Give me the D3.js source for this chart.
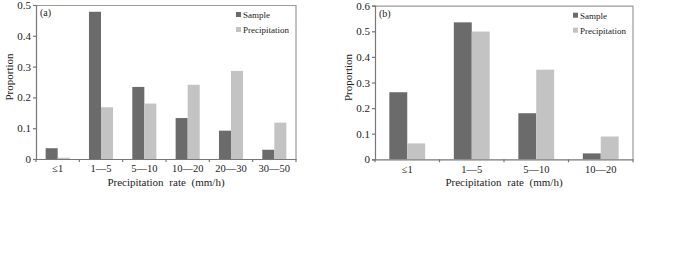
<!DOCTYPE html>
<html>
<head>
<meta charset="utf-8">
<script src="https://cdn.jsdelivr.net/npm/d3@7"></script>
<style>
  body { margin: 0; background: #fff; }
  svg { display: block; font-family: "Liberation Serif", "Times New Roman", serif; }
</style>
</head>
<body>
<div id="chart"></div>
<script>
(function () {

    var SERIES = ["Sample", "Precipitation"];
    var COLORS = { Sample: "#6b6b6b", Precipitation: "#c3c3c3" };

    // panel (a)
    var catsA       = ["≤1", "1—5", "5—10", "10—20", "20—30", "30—50"];
    var sampleA     = [0.035, 0.478, 0.234, 0.133, 0.092, 0.030];
    var precipA     = [0.004, 0.168, 0.180, 0.241, 0.286, 0.118];
    var yTicksA     = [0, 0.1, 0.2, 0.3, 0.4, 0.5];

    // panel (b)
    var catsB       = ["≤1", "1—5", "5—10", "10—20"];
    var sampleB     = [0.262, 0.535, 0.180, 0.023];
    var precipB     = [0.062, 0.499, 0.350, 0.089];
    var yTicksB     = [0, 0.1, 0.2, 0.3, 0.4, 0.5, 0.6];

    var svg = d3.select("#chart").append("svg")
        .attr("width", 700)
        .attr("height", 261);

    /* ── one panel ───────────────────────────────────────────────── */
    function drawPanel(o) {
        var iW = o.right - o.left;
        var iH = o.bottom - o.top;

        var g = svg.append("g")
            .attr("transform", "translate(" + o.left + "," + o.top + ")");

        var x0 = d3.scaleBand().domain(o.cats).range([0, iW]).padding(0);
        var x1 = d3.scaleBand().domain(SERIES).range([0, x0.bandwidth()])
            .paddingInner(0).paddingOuter(0.8);
        var y  = d3.scaleLinear().domain([0, o.yMax]).range([iH, 0]);

        var rows = o.cats.map(function (c, i) {
            return { cat: c, Sample: o.sample[i], Precipitation: o.precip[i] };
        });

        // bars
        g.selectAll(".grp")
            .data(rows)
            .enter().append("g")
            .attr("transform", function (d) { return "translate(" + x0(d.cat) + ",0)"; })
            .selectAll("rect")
            .data(function (d) { return SERIES.map(function (k) { return { key: k, value: d[k] }; }); })
            .enter().append("rect")
            .attr("x", function (d) { return x1(d.key); })
            .attr("width", x1.bandwidth())
            .attr("y", function (d) { return y(d.value); })
            .attr("height", function (d) { return iH - y(d.value); })
            .attr("fill", function (d) { return COLORS[d.key]; });

        // top / right frame
        g.append("path")
            .attr("d", "M0,0.5H" + iW + "V" + iH)
            .attr("fill", "none")
            .attr("stroke", "#9a9a9a")
            .attr("stroke-width", 1.2);

        // y axis
        var yAxis = g.append("g")
            .call(d3.axisLeft(y)
                .tickValues(o.yTicks)
                .tickSize(3)
                .tickPadding(2)
                .tickFormat(function (v) { return v === 0 ? "0" : d3.format(".1f")(v); }));

        // x axis
        var xAxis = g.append("g")
            .attr("transform", "translate(0," + iH + ")")
            .call(d3.axisBottom(x0).tickSize(0).tickPadding(6).tickSizeOuter(0));

        // boundary ticks between categories
        var bounds = o.cats.map(function (c) { return x0(c); }).concat([iW]);
        xAxis.selectAll(".bound")
            .data(bounds)
            .enter().append("line")
            .attr("x1", function (d) { return d; })
            .attr("x2", function (d) { return d; })
            .attr("y1", 0).attr("y2", 3)
            .attr("stroke", "#777");

        [yAxis, xAxis].forEach(function (a) {
            a.selectAll("path, line").attr("stroke", "#777").attr("stroke-width", 1.2);
            a.selectAll("text")
                .style("font-family", "'Liberation Serif', serif")
                .style("fill", "#222");
        });
        yAxis.selectAll("text").style("font-size", "11px");
        xAxis.selectAll("text").style("font-size", "10.5px");

        // axis titles
        g.append("text")
            .attr("transform", "rotate(-90)")
            .attr("x", -iH / 2 + 5)
            .attr("y", -23.5)
            .attr("text-anchor", "middle")
            .style("font-size", "11px")
            .style("fill", "#222")
            .text("Proportion");

        g.append("text")
            .attr("x", iW / 2)
            .attr("y", iH + 27)
            .attr("text-anchor", "middle")
            .style("font-size", "11px")
            .style("word-spacing", "3px")
            .style("fill", "#222")
            .text("Precipitation rate (mm/h)");

        // panel letter
        g.append("text")
            .attr("x", 4)
            .attr("y", 11)
            .style("font-size", "10px")
            .style("fill", "#222")
            .text(o.label);

        // legend
        var legend = g.append("g")
            .attr("transform", "translate(" + (iW - 60) + ",10)");
        SERIES.forEach(function (k, i) {
            var lg = legend.append("g").attr("transform", "translate(0," + (i * 15) + ")");
            lg.append("rect")
                .attr("x", 0).attr("y", -3)
                .attr("width", 5).attr("height", 5)
                .attr("fill", COLORS[k]);
            lg.append("text")
                .attr("x", 7).attr("y", 0)
                .attr("dy", "0.35em")
                .style("font-size", "9px")
                .style("fill", "#222")
                .text(k);
        });
    }

    drawPanel({ label: "(a)", cats: catsA, sample: sampleA, precip: precipA,
                yTicks: yTicksA, yMax: 0.5, left: 36, right: 296, top: 5, bottom: 159 });
    drawPanel({ label: "(b)", cats: catsB, sample: sampleB, precip: precipB,
                yTicks: yTicksB, yMax: 0.6, left: 375, right: 633, top: 5.7, bottom: 159.3 });

}());
</script>
</body>
</html>
